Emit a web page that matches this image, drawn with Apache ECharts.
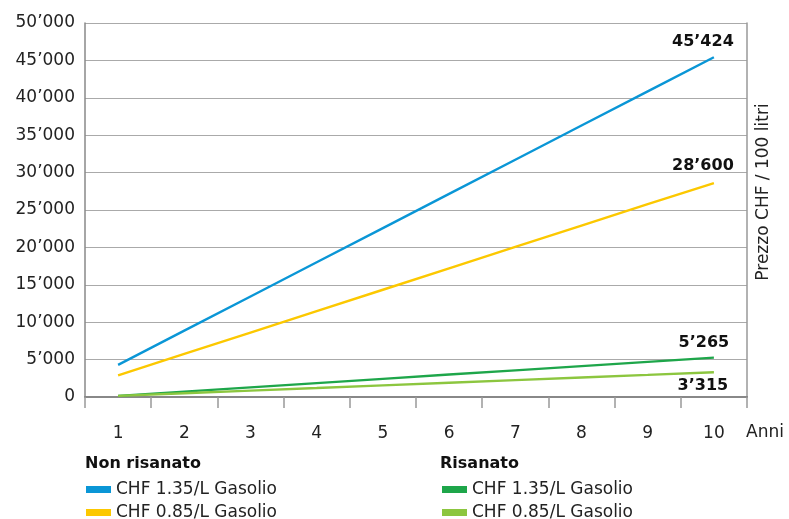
<!DOCTYPE html>
<html>
<head>
<meta charset="utf-8">
<script src="https://cdn.jsdelivr.net/npm/echarts@6/dist/echarts.min.js"></script>
<style>
  html, body { margin: 0; padding: 0; background: #fff; }
  #chart { width: 789px; height: 519px; }
</style>
</head>
<body>
<div id="chart"></div>
<script>
var years = ['1', '2', '3', '4', '5', '6', '7', '8', '9', '10'];

// Non risanato
var nonRis135 = [4300, 8870, 13440, 18010, 22580, 27150, 31720, 36290, 40860, 45424];
var nonRis085 = [2900, 5760, 8620, 11480, 14340, 17200, 20060, 22920, 25780, 28600];
// Risanato
var ris135 = [150, 720, 1290, 1860, 2430, 3000, 3560, 4130, 4700, 5265];
var ris085 = [150, 500, 850, 1200, 1560, 1910, 2260, 2610, 2960, 3315];

var legendNames = {
	nr135 : 'CHF 1.35/L Gasolio',
	nr085 : 'CHF 0.85/L Gasolio',
	r135 : 'CHF 1.35/L Gasolio',
	r085 : 'CHF 0.85/L Gasolio'
};

var FONT = 'DejaVu Sans';

function fmt(v) {
	return String(v).replace(/\B(?=(\d{3})+(?!\d))/g, '\u2019');
}

function makeSeries(name, data, color, labelOffset) {
	return {
		name : name,
		type : 'line',
		data : data,
		symbol : 'none',
		lineStyle : { color : color, width : 2.4 },
		itemStyle : { color : color },
		endLabel : {
			show : true,
			distance : 0,
			offset : labelOffset,
			align : 'center',
			verticalAlign : 'middle',
			fontFamily : FONT,
			fontWeight : 'bold',
			fontSize : 16,
			color : '#111',
			formatter : function(p) {
				return fmt(p.value);
			}
		}
	};
}

function makeLegend(name, left, top) {
	return {
		data : [ name ],
		left : left, top : top,
		itemWidth : 25, itemHeight : 7,
		icon : 'rect',
		formatter : function(n) { return legendNames[n]; },
		textStyle : { fontFamily : FONT, fontSize : 17, color : '#222' }
	};
}

var chart = echarts.init(document.getElementById('chart'));

var option = {
	animation : false,
	backgroundColor : '#fff',
	textStyle : { fontFamily : FONT },
	grid : { left : 85, right : 42, top : 23, bottom : 122 },
	title : [ {
		text : 'Non risanato',
		left : 80, top : 451,
		textStyle : { fontFamily : FONT, fontSize : 16, fontWeight : 'bold', color : '#111' }
	}, {
		text : 'Risanato',
		left : 435, top : 451,
		textStyle : { fontFamily : FONT, fontSize : 16, fontWeight : 'bold', color : '#111' }
	} ],
	legend : [
		makeLegend('nr135', 81, 476),
		makeLegend('nr085', 81, 499),
		makeLegend('r135', 437, 476),
		makeLegend('r085', 437, 499)
	],
	xAxis : [ {
		type : 'category',
		data : years,
		boundaryGap : true,
		axisLine : { show : true, lineStyle : { color : '#888', width : 1.5 } },
		axisTick : { show : true, interval : 0, length : 11, lineStyle : { color : '#999', width : 1.5 } },
		axisLabel : { margin : 28, fontSize : 17, color : '#222', fontFamily : FONT },
		splitLine : { show : false }
	}, {
		type : 'category',
		data : years,
		position : 'top',
		axisLine : { show : true, lineStyle : { color : '#888', width : 2 } },
		axisTick : { show : false },
		axisLabel : { show : false }
	} ],
	yAxis : [ {
		type : 'value',
		min : 0, max : 50000, interval : 5000,
		axisLine : { show : true, lineStyle : { color : '#888', width : 1.5 } },
		axisTick : { show : false },
		axisLabel : {
			margin : 10, fontSize : 17, color : '#222', fontFamily : FONT,
			formatter : function(v) { return fmt(v); }
		},
		splitLine : { lineStyle : { color : '#aaa', width : 1 } }
	}, {
		type : 'value',
		position : 'right',
		min : 0, max : 50000, interval : 5000,
		axisLine : { show : true, lineStyle : { color : '#999', width : 1.5 } },
		axisTick : { show : false },
		axisLabel : { show : false },
		splitLine : { show : false }
	} ],
	graphic : [ {
		type : 'text',
		x : 764, y : 192,
		rotation : Math.PI / 2,
		style : {
			text : 'Prezzo CHF / 100 litri',
			fontFamily : FONT, fontSize : 17, fill : '#222',
			align : 'center', verticalAlign : 'middle'
		}
	}, {
		type : 'text',
		left : 746, top : 424,
		style : { text : 'Anni', fontFamily : FONT, fontSize : 17, fill : '#222' }
	} ],
	series : [
		makeSeries('nr135', nonRis135, '#0a96d6', [ -11, -15 ]),
		makeSeries('nr085', nonRis085, '#fcc800', [ -11, -17 ]),
		makeSeries('r135', ris135, '#1ea64a', [ -10, -15 ]),
		makeSeries('r085', ris085, '#8cc63f', [ -11, 14 ])
	]
};

chart.setOption(option);
</script>
</body>
</html>
